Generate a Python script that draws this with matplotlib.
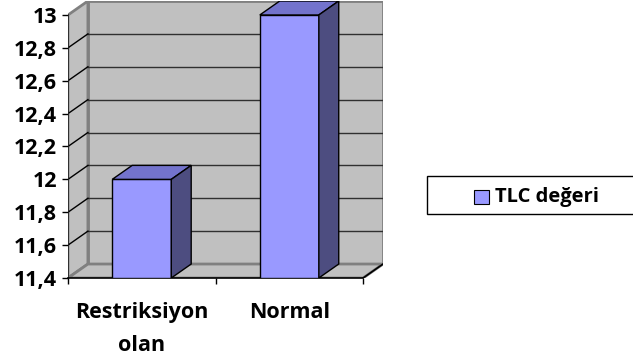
import matplotlib.pyplot as plt
from matplotlib.patches import Polygon, Rectangle
import numpy as np

categories = ["Restriksiyon\nolan", "Normal"]
values = [12.0, 13.0]
series_name = "TLC değeri"
y_ticks = [11.4, 11.6, 11.8, 12.0, 12.2, 12.4, 12.6, 12.8, 13.0]
y_ticklabels = ["11,4", "11,6", "11,8", "12", "12,2", "12,4", "12,6", "12,8", "13"]

face_col = "#9999FF"
top_col = "#7373CC"
side_col = "#4D4D80"
wall_col = "#C0C0C0"
wall_edge = "#808080"

plt.rcParams['font.family'] = ['Open Sans', 'DejaVu Sans']
plt.rcParams['font.weight'] = 'bold'

W, H = 633, 357
fig = plt.figure(figsize=(W / 100, H / 100), dpi=100)
# plot area in pixels: front face 68..363, back wall up to 383 / y=1
ax = fig.add_axes([68 / W, (H - 278) / H, (383 - 68) / W, 277 / H])

ymin, ymax = y_ticks[0], y_ticks[-1]
n = len(categories)
DX = 0.135   # depth offset in category units
DY = 0.085   # depth offset in value units
bw = 0.4

ax.set_xlim(0, n + DX)
ax.set_ylim(ymin, ymax + DY)
for s in ax.spines.values():
    s.set_visible(False)
ax.patch.set_alpha(0)

# walls: back, left side, floor
back = Rectangle((DX, ymin + DY), n, ymax - ymin, facecolor=wall_col,
                 edgecolor=wall_edge, lw=2, zorder=1)
side = Polygon([(0, ymin), (DX, ymin + DY), (DX, ymax + DY), (0, ymax)],
               closed=True, facecolor=wall_col, edgecolor=wall_edge, lw=2, zorder=1)
floor = Polygon([(0, ymin), (DX, ymin + DY), (n + DX, ymin + DY), (n, ymin)],
                closed=True, facecolor=wall_col, edgecolor=wall_edge, lw=2, zorder=1)
for p in (back, side, floor):
    ax.add_patch(p)

# gridlines across the back wall and the side wall
for t in y_ticks[1:-1]:
    ax.plot([DX, n + DX], [t + DY, t + DY], color="#303030", lw=1, zorder=2)
    ax.plot([0, DX], [t, t + DY], color="black", lw=1, zorder=2)

# front axis lines
ax.plot([0, 0], [ymin, ymax], color="#202020", lw=1.2, zorder=3)
ax.plot([0, n], [ymin, ymin], color="black", lw=1.2, zorder=3, clip_on=False)
ax.plot([n, n + DX], [ymin, ymin + DY], color="black", lw=1.2, zorder=3)

# 3D bars
for i, v in enumerate(values):
    x0 = i + 0.5 - bw / 2
    ax.add_patch(Rectangle((x0, ymin), bw, v - ymin, facecolor=face_col,
                           edgecolor="black", lw=1, zorder=4))
    ax.add_patch(Polygon([(x0, v), (x0 + DX, v + DY), (x0 + bw + DX, v + DY), (x0 + bw, v)],
                         closed=True, facecolor=top_col, edgecolor="black", lw=1, zorder=4))
    ax.add_patch(Polygon([(x0 + bw, ymin), (x0 + bw + DX, ymin + DY),
                          (x0 + bw + DX, v + DY), (x0 + bw, v)],
                         closed=True, facecolor=side_col, edgecolor="black", lw=1, zorder=4))

ax.set_yticks(y_ticks)
ax.set_yticklabels(y_ticklabels, fontsize=15.5, fontweight='bold')
ax.tick_params(axis='y', length=4.3, width=1, pad=3.5, color="black")

ax.set_xticks(np.arange(n) + 0.5)
ax.set_xticklabels(categories, fontsize=15.5, fontweight='bold', linespacing=1.75)
ax.set_xticks(np.arange(n + 1), minor=True)
ax.tick_params(axis='x', which='major', length=0, pad=17)
ax.tick_params(axis='x', which='minor', length=4.3, width=1, color="black")

# legend box
fig.patches.append(Rectangle((427 / W, (H - 214) / H), (640 - 427) / W, 38 / H,
                             transform=fig.transFigure, facecolor="white",
                             edgecolor="black", lw=1, clip_on=False))
fig.patches.append(Rectangle((474 / W, (H - 204) / H), 15 / W, 14 / H,
                             transform=fig.transFigure, facecolor=face_col,
                             edgecolor="black", lw=0.8))
fig.text(495 / W, (H - 197) / H, series_name, fontsize=14.5, fontweight='bold',
         va='center', ha='left')

fig.savefig("out.png", dpi=100)
